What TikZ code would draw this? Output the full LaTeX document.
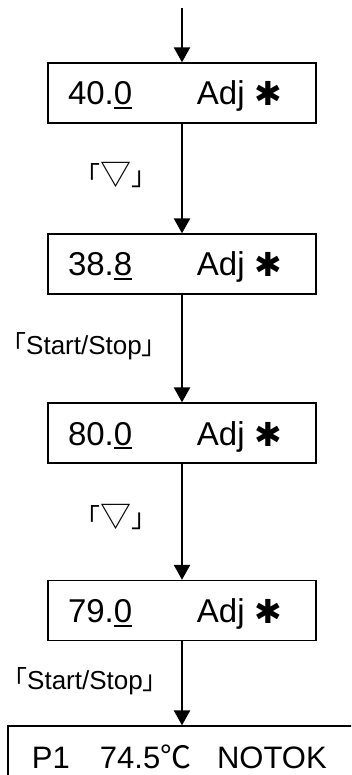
\documentclass[tikz,border=0pt]{standalone}
\usepackage{fontspec}
\setmainfont{Liberation Sans}
\newfontfamily\cjk{Noto Sans CJK JP}
\newfontfamily\dv{DejaVu Sans}
\usetikzlibrary{arrows.meta}
\newcommand\myul[1]{\setbox0\hbox{#1}\rlap{\rule[-4pt]{\wd0}{2pt}}\box0}
\newcommand\boxtext[2]{\hbox to 268pt{\hspace{20pt}\rlap{#1.\myul{#2}}\hspace{129pt}\rlap{Adj}\hspace{57pt}\rlap{\raisebox{-1pt}{\fontsize{33}{36}\dv ✱}}\hfill}}
\newcommand\tri{{\cjk\fontsize{26}{30}\selectfont 「\fontsize{31}{30}\selectfont ▽\fontsize{26}{30}\selectfont 」}}
\begin{document}
\begin{tikzpicture}[x=1pt,y=-1pt,
  stepbox/.style={draw=black,line width=1.3pt,minimum width=268pt,minimum height=60pt,inner sep=0pt,
    text height=30pt,text depth=6pt,font=\fontsize{33}{36}\selectfont},
  lastbox/.style={draw=black,line width=1.3pt,minimum width=352pt,minimum height=74pt,inner sep=0pt,
    text height=15pt,text depth=5pt,font=\fontsize{31}{36}\selectfont},
  keylabel/.style={inner sep=0pt,font=\fontsize{26}{30}\selectfont},
  arr/.style={line width=2.4pt,-{Triangle[width=16pt,length=15pt]}}]
\clip (0,0) rectangle (351,775);
\node[stepbox] (b1) at (182,93) {\boxtext{40}{0}};
\node[stepbox] (b2) at (182,264) {\boxtext{38}{8}};
\node[stepbox] (b3) at (182,433) {\boxtext{80}{0}};
\node[stepbox] (b4) at (182,610.5) {\boxtext{79}{0}};
\node[lastbox] (b5) at (184,763) {\hbox to 352pt{\hspace{24pt}\rlap{P1}\hspace{68pt}\rlap{74.5{\cjk ℃}}\hspace{117pt}\rlap{NOTOK}\hfill}};
\coordinate (top) at (182,8);
\draw[arr] (top) -- (b1);
\draw[arr] (b1) -- (b2);
\draw[arr] (b2) -- (b3);
\draw[arr] (b3) -- (b4);
\draw[arr] (b4.south) -- (b5.north -| b4.south);
\node[keylabel] (l1) at (116,175) {\tri};
\node[keylabel] (l2) at (84,346) {{\cjk 「}Start/Stop{\cjk 」}};
\node[keylabel] (l3) at (116,517) {\tri};
\node[keylabel] (l4) at (85,681) {{\cjk 「}Start/Stop{\cjk 」}};
\end{tikzpicture}
\end{document}
